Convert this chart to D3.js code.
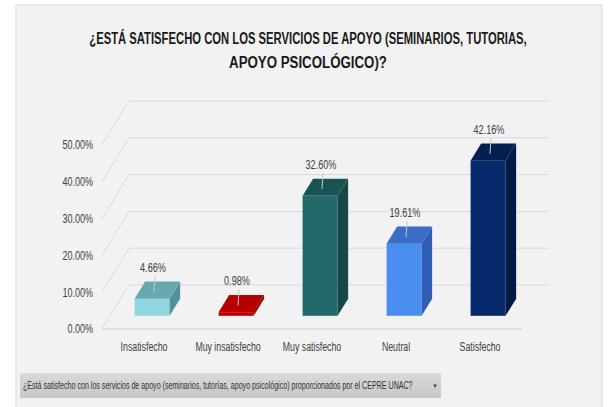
<!DOCTYPE html>
<html>
<head>
<meta charset="utf-8">
<script src="https://cdn.jsdelivr.net/npm/d3@7"></script>
<style>
  body { margin: 0; background: #fff; }
  text { font-family: "Liberation Sans Narrow", "Arial Narrow", "Liberation Sans", Arial, sans-serif; }
</style>
</head>
<body>
<script>
const categories = ["Insatisfecho", "Muy insatisfecho", "Muy satisfecho", "Neutral", "Satisfecho"];
const values = [4.66, 0.98, 32.60, 19.61, 42.16];
const yTicks = [0, 10, 20, 30, 40, 50];
const titleLines = ["¿ESTÁ SATISFECHO CON LOS SERVICIOS DE APOYO (SEMINARIOS, TUTORIAS,", "APOYO PSICOLÓGICO)?"];
const filterLabel = "¿Está satisfecho  con los servicios de apoyo (seminarios, tutorías, apoyo psicológico) proporcionados por el CEPRE UNAC?";

const frontColors = ["#8fd7df", "#c00000", "#226a6a", "#4a8ef0", "#062a6b"];
const topColors   = ["#66a9ae", "#b80000", "#1b5353", "#3b6cc8", "#041f52"];
const sideColors  = ["#4f9297", "#8a0000", "#174848", "#2f5cb5", "#021945"];

const width = 611, height = 407;
const depthX = 27, depthY = -44;      // floor depth offset
const barZ0 = 0.3, barZ1 = 0.69;      // bar position inside the depth
const barW = 35;

const svg = d3.select("body").append("svg")
  .attr("width", width).attr("height", height);

// squeeze text to look like a narrow font
function narrow(sel, k) {
  sel.each(function() {
    const w = this.getComputedTextLength();
    d3.select(this).attr("textLength", w * k).attr("lengthAdjust", "spacingAndGlyphs");
  });
}
// squeeze a text to a given width with a transform (x, y are the anchor point)
function fitWidth(sel, x, y, w) {
  sel.attr("x", 0).attr("y", 0);
  const k = w / sel.node().getComputedTextLength();
  sel.attr("transform", `translate(${x},${y}) scale(${k},1)`);
}

// panel
svg.append("rect").attr("x", 16).attr("y", 5).attr("width", 586).attr("height", 410)
  .attr("fill", "#f2f2f2").attr("stroke", "#d9d9d9");

// title
titleLines.forEach((line, i) => {
  svg.append("text")
    .attr("text-anchor", "middle")
    .attr("font-size", 17).attr("font-weight", "bold").attr("fill", "#1a1a1a")
    .text(line)
    .call(fitWidth, 308, 44 + i * 24, i === 0 ? 438 : 158);
});

const xScale = d3.scaleBand().domain(categories).range([102, 522]);
const yScale = d3.scaleLinear().domain([0, 50]).range([329, 145]);

const proj = (x, y, z) => [x + depthX * z, y + depthY * z];

// gridlines: front diagonal + back wall
const grid = svg.append("g").attr("fill", "none");
yTicks.forEach(t => {
  const y = yScale(t);
  const p = proj(102, y, 1);
  grid.append("path")
    .attr("d", `M102,${y}L${p[0]},${p[1]}L549,${p[1]}`)
    .attr("stroke", "#d9d9d9").attr("stroke-width", 1);
});
grid.append("line")
  .attr("x1", 102).attr("x2", 522).attr("y1", yScale(0)).attr("y2", yScale(0))
  .attr("stroke", "#d9d9d9").attr("stroke-width", 1.5);

// y axis labels
const yAxis = svg.append("g")
  .attr("transform", "translate(95,0)")
  .call(d3.axisLeft(yScale).tickValues(yTicks).tickSize(0).tickPadding(2)
    .tickFormat(d => d.toFixed(2) + "%"));
yAxis.select(".domain").remove();
yAxis.selectAll("text").attr("font-size", 12).attr("fill", "#404040")
  .style("font-family", "'Liberation Sans', Arial, sans-serif")
  .call(narrow, 0.75);

// x axis labels
const xAxis = svg.append("g")
  .attr("transform", `translate(0,${yScale(0)})`)
  .call(d3.axisBottom(xScale).tickSize(0).tickPadding(13));
xAxis.select(".domain").remove();
xAxis.selectAll("text").attr("font-size", 12).attr("fill", "#404040")
  .style("font-family", "'Liberation Sans', Arial, sans-serif")
  .call(narrow, 0.73);

// bars
const bars = svg.selectAll(".bar").data(values).enter().append("g").attr("class", "bar");
const pts = arr => arr.map(p => p.join(",")).join(" ");

bars.each(function(v, i) {
  const g = d3.select(this);
  const cx = xScale(categories[i]) + xScale.bandwidth() / 2;
  const x0 = cx - barW / 2, x1 = cx + barW / 2;
  const yt = yScale(v), yb = yScale(0);

  const f0 = proj(x0, yt, barZ0), f1 = proj(x1, yb, barZ0);
  g.append("rect")
    .attr("x", f0[0]).attr("y", f0[1])
    .attr("width", f1[0] - f0[0]).attr("height", f1[1] - f0[1])
    .attr("fill", frontColors[i]);

  g.append("polygon")
    .attr("points", pts([proj(x1, yt, barZ0), proj(x1, yt, barZ1), proj(x1, yb, barZ1), proj(x1, yb, barZ0)]))
    .attr("fill", sideColors[i]);

  g.append("polygon")
    .attr("points", pts([proj(x0, yt, barZ0), proj(x1, yt, barZ0), proj(x1, yt, barZ1), proj(x0, yt, barZ1)]))
    .attr("fill", topColors[i]);

  // leader line
  g.append("line")
    .attr("x1", cx + 11).attr("y1", yt - 36)
    .attr("x2", cx + 10).attr("y2", yt - 20)
    .attr("stroke", "#c8c8c8").attr("stroke-width", 1);

  g.append("text")
    .attr("x", cx + 9).attr("y", yt - 40)
    .attr("text-anchor", "middle")
    .attr("font-size", 12).attr("fill", "#404040")
    .style("font-family", "'Liberation Sans', Arial, sans-serif")
    .text(v.toFixed(2) + "%")
    .call(narrow, 0.76);
});

// filter dropdown
const defs = svg.append("defs");
const grad = defs.append("linearGradient").attr("id", "dd").attr("x1", 0).attr("x2", 0).attr("y1", 0).attr("y2", 1);
grad.append("stop").attr("offset", "0%").attr("stop-color", "#dadada");
grad.append("stop").attr("offset", "100%").attr("stop-color", "#c6c6c6");

svg.append("rect").attr("x", 20).attr("y", 373).attr("width", 421).attr("height", 25)
  .attr("fill", "url(#dd)");
svg.append("text")
  .attr("font-size", 10.5).attr("fill", "#333")
  .text(filterLabel)
  .call(fitWidth, 23, 389, 390);
svg.append("text").attr("x", 435).attr("y", 388)
  .attr("text-anchor", "middle").attr("font-size", 6).attr("fill", "#444")
  .text("▼");
</script>
</body>
</html>
